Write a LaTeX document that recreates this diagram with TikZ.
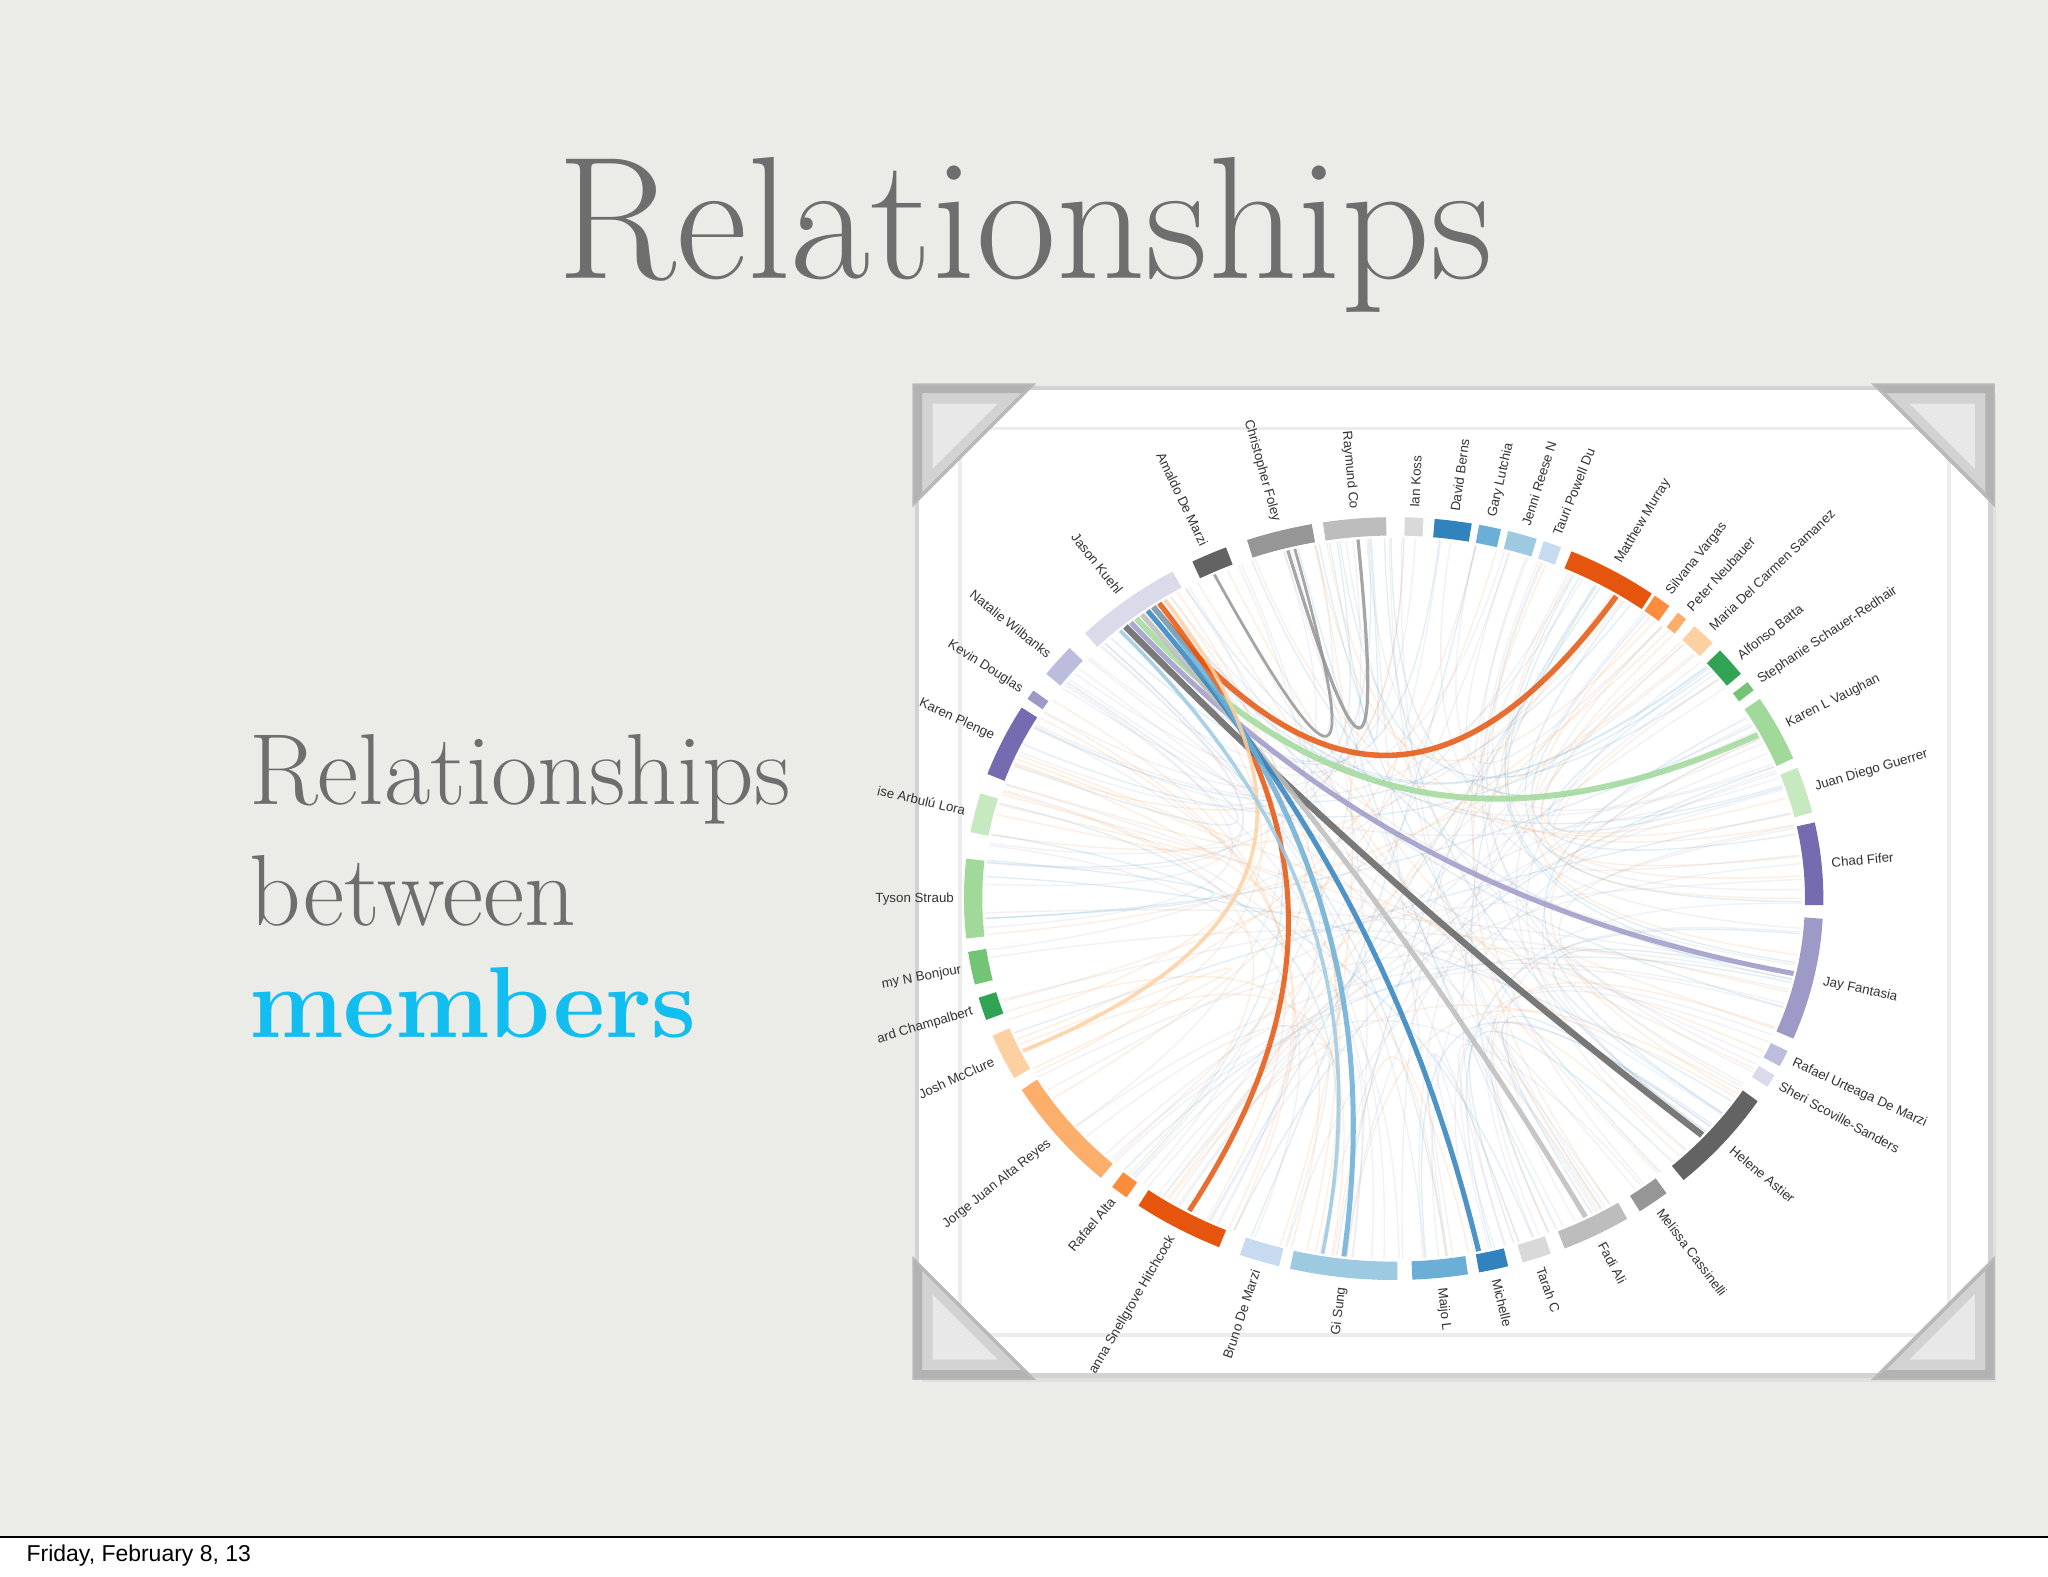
\documentclass[tikz,border=0pt]{standalone}
\usepackage{fontspec}
\newfontfamily\labfont{Liberation Sans}
\begin{document}
\begin{tikzpicture}[x=0.01cm,y=-0.01cm]
\definecolor{bg}{HTML}{EBEBE8}
\definecolor{titlegray}{HTML}{6E6E6E}
\definecolor{memb}{HTML}{12BDF0}
\definecolor{cA}{HTML}{3182BD}\definecolor{cB}{HTML}{6BAED6}\definecolor{cC}{HTML}{9ECAE1}\definecolor{cD}{HTML}{C6DBEF}
\definecolor{oA}{HTML}{E6550D}\definecolor{oB}{HTML}{FD8D3C}\definecolor{oC}{HTML}{FDAE6B}\definecolor{oD}{HTML}{FDD0A2}
\definecolor{gA}{HTML}{31A354}\definecolor{gB}{HTML}{74C476}\definecolor{gC}{HTML}{A1D99B}\definecolor{gD}{HTML}{C7E9C0}
\definecolor{pA}{HTML}{756BB1}\definecolor{pB}{HTML}{9E9AC8}\definecolor{pC}{HTML}{BCBDDC}\definecolor{pD}{HTML}{DADAEB}
\definecolor{kA}{HTML}{636363}\definecolor{kB}{HTML}{969696}\definecolor{kC}{HTML}{BDBDBD}\definecolor{kD}{HTML}{D9D9D9}
\tikzset{lab/.style={font=\labfont\fontsize{2.9}{3.5}\selectfont,inner sep=0pt,text=black!80},
  bul/.style={text=titlegray,font=\fontsize{22}{26}\selectfont,anchor=west,inner sep=0pt},
  corner/.style={fill=gray!35,draw=gray!55,line width=0.8pt}}
\def\cx{1067}\def\cy{688}\def\rx{322}\def\ry{285}
% background
\fill[bg] (0,0) rectangle (1568,1207);
\useasboundingbox (0,0) rectangle (1568,1207);
% title
\node[text=titlegray,font=\fontsize{38}{44}\selectfont] (title) at (785,180) {Relationships};
\node[bul] (l1) at (190,597) {Relationships};
\node[bul] (l2) at (190,682) {between};
\node[bul,text=memb,font=\bfseries\fontsize{22}{26}\selectfont] (l3) at (190,768) {members};
% footer
\fill[white] (0,1177) rectangle (1568,1207);
\draw[black,line width=0.5pt] (0,1177) -- (1568,1177);
\node[font=\labfont\fontsize{5}{6}\selectfont,anchor=west] (foot) at (8,1191) {Friday, February 8, 13};
% photo frame
\fill[black!12] (706,302) rectangle (1528,1058);
\fill[white] (702,297) rectangle (1524,1053);
\draw[gray!35,line width=1pt] (702,297) rectangle (1524,1053);
\draw[gray!15,line width=0.8pt] (735,328) rectangle (1492,1022);
% faint chords
\pgfmathsetseed{7}
\foreach \i in {1,...,170}{
  \pgfmathsetmacro\ta{rnd*360}\pgfmathsetmacro\tb{rnd*360}
  \pgfmathsetmacro\cc{int(mod(\i,4))}
  \ifcase\cc\def\col{cB}\or\def\col{kC}\or\def\col{oC}\or\def\col{pC}\fi
  \draw[\col,opacity=0.2,line width=0.3pt]
   ({\cx+(\rx-9)*cos(\ta)},{\cy-(\ry-9)*sin(\ta)}) .. controls ({\cx+0.25*\rx*cos(\ta)},{\cy-0.25*\ry*sin(\ta)}) and ({\cx+0.25*\rx*cos(\tb)},{\cy-0.25*\ry*sin(\tb)}) .. ({\cx+(\rx-9)*cos(\tb)},{\cy-(\ry-9)*sin(\tb)});
}
% prominent chords
\newcommand\chordx[4]{%
  \draw[#3,line width=#4,opacity=0.85]
   ({\cx+(\rx-9)*cos(#1)},{\cy-(\ry-9)*sin(#1)}) .. controls ({\cx+0.3*\rx*cos(#1)},{\cy-0.3*\ry*sin(#1)}) and ({\cx+0.3*\rx*cos(#2)},{\cy-0.3*\ry*sin(#2)}) .. ({\cx+(\rx-9)*cos(#2)},{\cy-(\ry-9)*sin(#2)});}
\chordx{57}{126}{oA}{1.2pt}
\chordx{125}{-120}{oA}{1.1pt}
\chordx{27}{129}{gC}{1.3pt}
\chordx{-12}{130}{pB}{1.1pt}
\chordx{-41}{131}{kA}{1.4pt}
\chordx{-62}{128}{kC}{1.1pt}
\chordx{-78}{127}{cA}{1.1pt}
\chordx{-97}{126}{cB}{1.1pt}
\chordx{-155}{124}{oD}{0.8pt}
\chordx{105}{95}{kB}{0.7pt}
\chordx{116}{104}{kB}{0.6pt}
\chordx{132}{-100}{cC}{0.8pt}
% segments
\newcommand\seg[4]{%
  \draw[#3,line width=4pt] plot[domain=#1:#2,samples=12] ({\cx+\rx*cos(\x)},{\cy-\ry*sin(\x)});
  \pgfmathsetmacro\md{(#1+#2)/2}
  \pgfmathparse{(\md>90 || \md<-90) ? 1 : 0}
  \ifnum\pgfmathresult=1
    \node[lab,anchor=east,rotate=\md+180] at ({\cx+(\rx+14)*cos(\md)},{\cy-(\ry+14)*sin(\md)}) {#4};
  \else
    \node[lab,anchor=west,rotate=\md] at ({\cx+(\rx+14)*cos(\md)},{\cy-(\ry+14)*sin(\md)}) {#4};
  \fi}
\seg{86}{88.5}{kD}{Ian Koss}
\seg{79.5}{84.5}{cA}{David Berns}
\seg{75.5}{78.5}{cB}{Gary Lutchia}
\seg{70.5}{74.5}{cC}{Jenni Reese N}
\seg{67}{69.5}{cD}{Tauri Powell Du}
\seg{53}{65.5}{oA}{Matthew Murray}
\seg{50}{52.5}{oB}{Silvana Vargas}
\seg{47}{48.5}{oC}{Peter Neubauer}
\seg{42}{45.5}{oD}{Maria Del Carmen Samanez}
\seg{36}{40.5}{gA}{Alfonso Batta}
\seg{33}{34.5}{gB}{Stephanie Schauer-Redhair}
\seg{21.5}{31.5}{gC}{Karen L Vaughan}
\seg{13}{20}{gD}{Juan Diego Guerrer}
\seg{-1}{11.5}{pA}{Chad Fifer}
\seg{-21.5}{-3}{pB}{Jay Fantasia}
\seg{-26}{-23.5}{pC}{Rafael Urteaga De Marzi}
\seg{-29.5}{-27.5}{pD}{Sheri Scoville-Sanders}
\seg{-47.5}{-32}{kA}{Helene Astier}
\seg{-55}{-50.5}{kB}{Melissa Cassinelli}
\seg{-66.5}{-57}{kC}{Fadi Ali}
\seg{-72.5}{-68.5}{kD}{Tarah C}
\seg{-78.5}{-74.5}{cA}{Michelle}
\seg{-87.5}{-80}{cB}{Maijo L}
\seg{-104}{-89.5}{cC}{Gi Sung}
\seg{-111}{-105.5}{cD}{Bruno De Marzi}
\seg{-126.5}{-114}{oA}{anna Snellgrove Hitchcock}
\seg{-131}{-128.5}{oB}{Rafael Alta}
\seg{-150}{-133}{oC}{Jorge Juan Alta Reyes}
\seg{-159}{-152}{oD}{Josh McClure}
\seg{-165}{-161.5}{gA}{ard Champalbert}
\seg{-172}{-167}{gB}{my N Bonjour}
\seg{174}{186}{gC}{Tyson Straub}
\seg{164}{170}{gD}{ise Arbul\'u Lora}
\seg{150}{161}{pA}{Karen Plenge}
\seg{147}{148.5}{pB}{Kevin Douglas}
\seg{139}{144}{pC}{Natalie Wilbanks}
\seg{121}{136}{pD}{Jason Kuehl}
\seg{113}{118}{kA}{Amaldo De Marzi}
\seg{101}{110}{kB}{Christopher Foley}
\seg{91}{99.5}{kC}{Raymund Co}
% photo corners
\foreach \px/\py/\sx/\sy in {700/295/1/1,1526/295/-1/1,700/1055/1/-1,1526/1055/-1/-1}{
  \fill[corner] (\px,\py) -- ++(\sx*90,0) -- ++(-\sx*90,\sy*90) -- cycle;
  \fill[gray!60] (\px,\py) -- ++(\sx*90,0) -- ++(-\sx*8,\sy*6) -- ++(-\sx*76,0) -- ++(0,\sy*76) -- ++(-\sx*6,\sy*8) -- cycle;
  \fill[white,opacity=0.5] (\px+\sx*14,\py+\sy*14) -- ++(\sx*50,0) -- ++(-\sx*50,\sy*50) -- cycle;
}
\end{tikzpicture}
\end{document}
